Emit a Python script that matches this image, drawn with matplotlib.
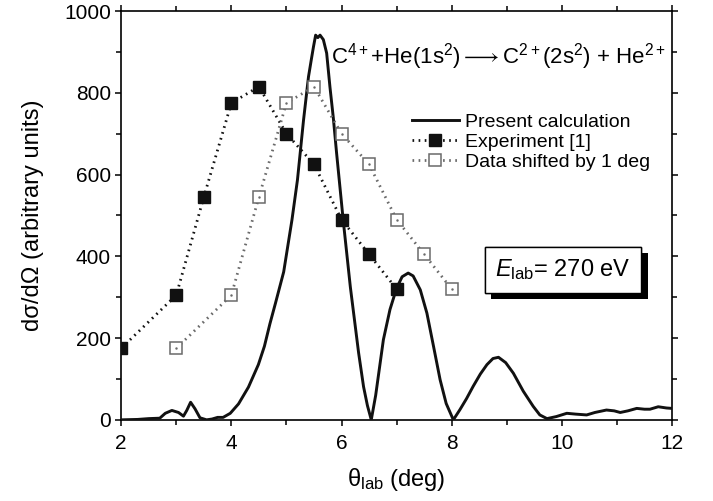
import numpy as np
import matplotlib.pyplot as plt
from matplotlib.ticker import MultipleLocator
import matplotlib.patheffects as pe

plt.rcParams['font.family'] = ['Liberation Sans', 'DejaVu Sans']
plt.rcParams['mathtext.fontset'] = 'custom'
plt.rcParams['mathtext.rm'] = 'Liberation Sans'
plt.rcParams['mathtext.it'] = 'Liberation Sans:italic'
plt.rcParams['mathtext.bf'] = 'Liberation Sans:bold'

# present calculation
theta_calc = [2.0, 2.3, 2.5, 2.7, 2.8, 2.92, 3.04, 3.13, 3.19, 3.26, 3.34, 3.43,
              3.55, 3.65, 3.75, 3.85, 3.98, 4.13, 4.31, 4.49, 4.6, 4.7, 4.8,
              4.95, 5.1, 5.2, 5.31, 5.4, 5.45, 5.49, 5.53, 5.57, 5.61, 5.67, 5.73,
              5.79, 5.85, 5.91, 6.03, 6.16, 6.31, 6.4, 6.47, 6.54, 6.62, 6.76,
              6.88, 7.0, 7.1, 7.21, 7.3, 7.43, 7.55, 7.67, 7.79, 7.9, 8.03, 8.15,
              8.27, 8.39, 8.52, 8.64, 8.75, 8.85, 8.98, 9.12, 9.3, 9.48, 9.6,
              9.73, 9.9, 10.09, 10.25, 10.45, 10.6, 10.81, 10.95, 11.06, 11.2,
              11.36, 11.5, 11.6, 11.75, 11.9, 12.0]
sigma_calc = [0, 1, 3, 4, 16, 23, 18, 9, 23, 43, 27, 5,
              0, 2, 6, 6, 16, 39, 80, 135, 180, 235, 285,
              362, 489, 587, 733, 839, 880, 912, 941, 935, 941, 930, 897,
              814, 740, 653, 489, 325, 164, 81, 35, 0, 60, 196,
              270, 322, 350, 359, 352, 318, 261, 180, 98, 40, 0, 25,
              52, 82, 112, 135, 150, 153, 140, 114, 70, 33, 12,
              3, 8, 16, 14, 12, 18, 24, 22, 18, 22,
              28, 26, 26, 32, 29, 28]

# experiment [1]
theta_exp = [2.0, 3.0, 3.5, 4.0, 4.5, 5.0, 5.5, 6.0, 6.5, 7.0]
sigma_exp = [175, 305, 545, 775, 815, 700, 625, 490, 405, 320]
shift = 1.0
theta_shift = [t + shift for t in theta_exp]

fig = plt.figure(figsize=(7.13, 5.01), dpi=100)
ax = fig.add_axes([0.170, 0.162, 0.7725, 0.816])

gray = '#6a6a6a'
dots = (0, (0.6, 1.6))

ax.plot(theta_calc, sigma_calc, '-', color='#111111', lw=2.1,
        label='Present calculation', zorder=3)
ax.plot(theta_exp, sigma_exp, linestyle=dots, color='#111111', lw=2.0,
        marker='s', ms=8.5, mfc='#111111', mec='#111111',
        label='Experiment [1]', zorder=4)
ax.plot(theta_shift, sigma_exp, linestyle=dots, color=gray, lw=2.0,
        marker='s', ms=8.5, mfc='white', mec=gray, mew=1.1,
        label='Data shifted by 1 deg', zorder=4)
ax.plot(theta_shift, sigma_exp, linestyle='none', marker='.', ms=1.5,
        color=gray, zorder=5)

ax.set_xlim(2, 12)
ax.set_ylim(0, 1000)
ax.xaxis.set_major_locator(MultipleLocator(2))
ax.xaxis.set_minor_locator(MultipleLocator(1))
ax.yaxis.set_major_locator(MultipleLocator(200))
ax.yaxis.set_minor_locator(MultipleLocator(100))
ax.tick_params(which='both', direction='out', top=True, right=True,
               width=1.1, labelsize=15)
ax.tick_params(axis='x', pad=6)
ax.tick_params(axis='y', pad=3)
ax.tick_params(which='major', length=4.5)
ax.tick_params(which='minor', length=3.5)
for s in ax.spines.values():
    s.set_linewidth(1.2)

ax.set_xlabel('θ$_{\\mathrm{lab}}$ (deg)', fontsize=17, labelpad=9)
ax.set_ylabel('dσ/dΩ (arbitrary units)', fontsize=17, labelpad=14)

ax.text(0.989, 0.888,
        r'C$^{4+}$+He(1s$^2$)$\longrightarrow$C$^{2+}$(2s$^2$) + He$^{2+}$',
        transform=ax.transAxes, ha='right', va='center', fontsize=16)

leg = ax.legend(loc='upper left', bbox_to_anchor=(0.528, 0.75), frameon=False,
                fontsize=14, handlelength=2.4, handletextpad=0.3,
                labelspacing=0.12, borderpad=0, borderaxespad=0)

t = ax.text(0.802, 0.367, r'$E_{\mathrm{lab}}$= 270 eV', transform=ax.transAxes,
            ha='center', va='center', fontsize=17,
            bbox=dict(boxstyle='square,pad=0.45', fc='white', ec='black', lw=1.0))
t.get_bbox_patch().set_path_effects(
    [pe.withSimplePatchShadow(offset=(4.5, -4.5), shadow_rgbFace='black', alpha=1.0),
     pe.Normal()])

fig.savefig('out.png', dpi=100)
